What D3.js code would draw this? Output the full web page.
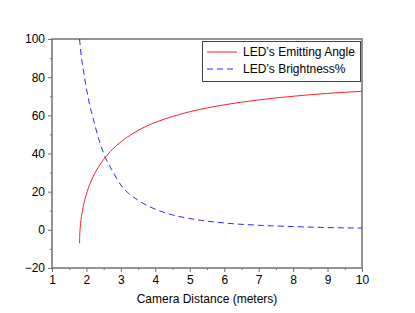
<!DOCTYPE html>
<html>
<head>
<meta charset="utf-8">
<script src="https://cdn.jsdelivr.net/npm/d3@7"></script>
<style>
  body { margin: 0; background: #fff; }
  svg text { font-family: "Liberation Sans", Arial, sans-serif; }
</style>
</head>
<body>
<div id="root"></div>
<script>
const width = 415;
const height = 313;

// camera distance (m) and the two series
const angleX = [1.8, 1.805, 1.81, 1.82, 1.84, 1.87, 1.9, 1.95, 2.0, 2.05, 2.1, 2.2, 2.35, 2.5, 2.75, 3, 3.5, 4, 4.5, 5, 6, 7, 8, 9, 10];
const angleY = [-7, -2.7, -1, 1.5, 4.9, 8.7, 11.7, 15.6, 18.8, 21.6, 24, 28.1, 33, 36.9, 42.1, 46.1, 52.1, 56.3, 59.4, 61.9, 65.5, 68.1, 70, 71.5, 72.6];

const brightX = [1.8, 1.85, 1.9, 2.0, 2.1, 2.2, 2.35, 2.5, 2.75, 3, 3.5, 4, 4.5, 5, 6, 7, 8, 9, 10];
const brightY = [100, 91, 85, 74, 65, 58, 48, 40, 31, 23.5, 15.5, 10.8, 7.8, 5.9, 3.6, 2.4, 1.7, 1.2, 0.9];

const xTicks = [1, 2, 3, 4, 5, 6, 7, 8, 9, 10];
const yTicks = [-20, 0, 20, 40, 60, 80, 100];
const seriesNames = ["LED\u2019s Emitting Angle", "LED\u2019s Brightness%"];

const plotLeft = 52, plotRight = 362, plotTop = 39, plotBottom = 268;

let svg = d3
  .select("#root")
  .append("svg")
  .attr("width", width)
  .attr("height", height);

let x = d3.scaleLinear().domain([1, 10]).range([plotLeft, plotRight]);
let y = d3.scaleLinear().domain([-20, 100]).range([plotBottom, plotTop]);

const axisColor = "#707070";

// minor ticks
svg
  .append("g")
  .attr("transform", "translate(0," + plotBottom + ")")
  .call(d3.axisBottom(x).tickValues(d3.range(1.5, 10, 1)).tickSize(2).tickFormat(""))
  .call((g) => g.select(".domain").remove())
  .selectAll("line")
  .attr("stroke", axisColor);

svg
  .append("g")
  .attr("transform", "translate(" + plotLeft + ",0)")
  .call(d3.axisLeft(y).tickValues(d3.range(-10, 100, 20)).tickSize(2).tickFormat(""))
  .call((g) => g.select(".domain").remove())
  .selectAll("line")
  .attr("stroke", axisColor);

// major ticks
let xAxis = svg
  .append("g")
  .attr("transform", "translate(0," + plotBottom + ")")
  .call(d3.axisBottom(x).tickValues(xTicks).tickSize(4).tickPadding(3).tickFormat(d3.format("d")));

let yAxis = svg
  .append("g")
  .attr("transform", "translate(" + plotLeft + ",0)")
  .call(
    d3
      .axisLeft(y)
      .tickValues(yTicks)
      .tickSize(4)
      .tickPadding(3)
      .tickFormat((d) => (d < 0 ? "\u2212" + Math.abs(d) : d))
  );

[xAxis, yAxis].forEach((g) => {
  g.select(".domain").remove();
  g.selectAll("line").attr("stroke", axisColor);
  g.selectAll("text").style("font-size", "12px").attr("fill", "#000");
});

// frame
svg
  .append("rect")
  .attr("x", plotLeft)
  .attr("y", plotTop)
  .attr("width", plotRight - plotLeft)
  .attr("height", plotBottom - plotTop)
  .attr("fill", "none")
  .attr("stroke", axisColor)
  .attr("stroke-width", 1.5);

let line = d3
  .line()
  .x((d) => x(d[0]))
  .y((d) => y(d[1]))
  .curve(d3.curveMonotoneX);

svg
  .append("path")
  .datum(angleX.map((v, i) => [v, angleY[i]]))
  .attr("d", line)
  .attr("fill", "none")
  .attr("stroke", "#ff2020")
  .attr("stroke-width", 1);

svg
  .append("path")
  .datum(brightX.map((v, i) => [v, brightY[i]]))
  .attr("d", line)
  .attr("fill", "none")
  .attr("stroke", "#2828ff")
  .attr("stroke-width", 1)
  .attr("stroke-dasharray", "6,4");

// x label
svg
  .append("text")
  .attr("x", (plotLeft + plotRight) / 2)
  .attr("y", 303)
  .attr("text-anchor", "middle")
  .style("font-size", "12px")
  .text("Camera Distance (meters)");

// legend
let legend = svg.append("g");
legend
  .append("rect")
  .attr("x", 202.5)
  .attr("y", 41.5)
  .attr("width", 158)
  .attr("height", 40)
  .attr("fill", "#fff")
  .attr("stroke", "#404040")
  .attr("stroke-width", 1);

const legendColors = ["#ff2020", "#2828ff"];
const legendDash = [null, "6,4"];
seriesNames.forEach((name, i) => {
  let yy = 52 + i * 17;
  legend
    .append("line")
    .attr("x1", 207)
    .attr("x2", 237)
    .attr("y1", yy)
    .attr("y2", yy)
    .attr("stroke", legendColors[i])
    .attr("stroke-dasharray", legendDash[i]);
  legend
    .append("text")
    .attr("x", 243)
    .attr("y", yy + 4)
    .style("font-size", "12px")
    .text(name);
});
</script>
</body>
</html>
